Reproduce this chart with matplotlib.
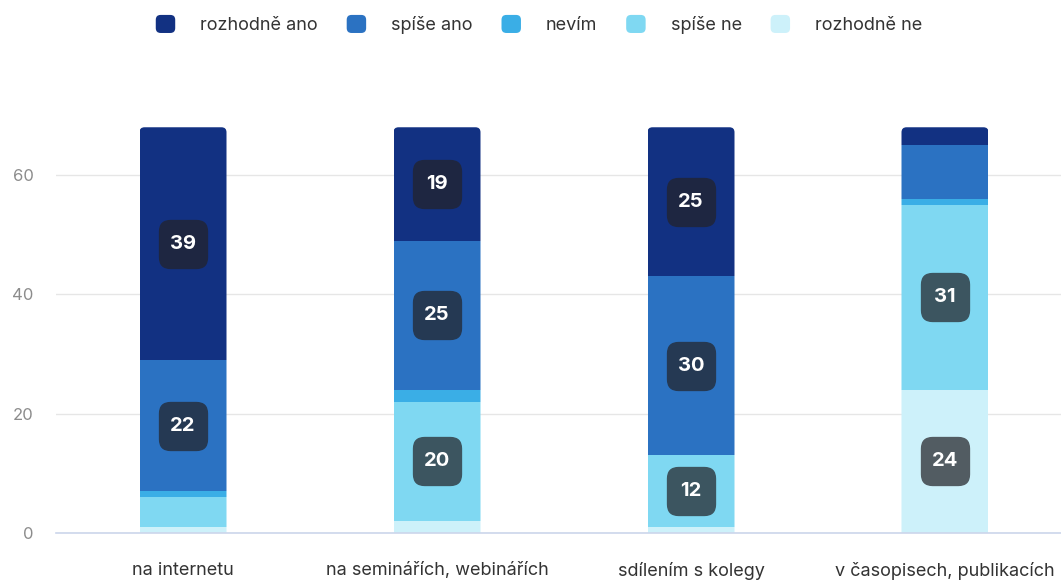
import matplotlib
matplotlib.use("Agg")
import matplotlib.pyplot as plt
from matplotlib.patches import FancyBboxPatch, Patch, BoxStyle
from matplotlib.legend_handler import HandlerPatch
import numpy as np

plt.rcParams['font.family'] = ['Inter', 'DejaVu Sans']

categories = ["na internetu", "na seminářích, webinářích", "sdílením s kolegy", "v časopisech, publikacích"]
series_names = ["rozhodně ano", "spíše ano", "nevím", "spíše ne", "rozhodně ne"]
rozhodne_ano = [39, 19, 25, 3]
spise_ano = [22, 25, 30, 9]
nevim = [1, 2, 0, 1]
spise_ne = [5, 20, 12, 31]
rozhodne_ne = [1, 2, 1, 24]
colors = ["#123182", "#2b72c2", "#3aaee6", "#7fd8f2", "#cdf1fa"]
label_threshold = 10

values = [rozhodne_ano, spise_ano, nevim, spise_ne, rozhodne_ne]

W, H = 1061, 580
fig = plt.figure(figsize=(W / 100, H / 100), dpi=100)
ax_left, ax_bottom_px, ax_top_px = 56, 533, 533 - 70 * (358 / 60)
ax = fig.add_axes([ax_left / W, (H - ax_bottom_px) / H, 1 - ax_left / W, (ax_bottom_px - ax_top_px) / H])

ymax = 70
ax.set_ylim(0, ymax)
band_px = 254
ax.set_xlim(-0.5, 3.5 - (ax_left + 4 * band_px - W) / band_px)

x = np.arange(len(categories))
width = 87 / band_px

# clip shapes with rounded top corners
px_per_y = (ax_bottom_px - ax_top_px) / ymax
clips = []
for xi in x:
    total = sum(v[xi] for v in values)
    r = 5 / band_px
    p = FancyBboxPatch((xi - width / 2, -3), width, total + 3,
                       boxstyle=f"round,pad=0,rounding_size={r}",
                       mutation_aspect=band_px / px_per_y,
                       transform=ax.transData, facecolor='none', edgecolor='none')
    ax.add_patch(p)
    p.set_visible(False)
    clips.append(p)

# rounded-square marker for data label boxes
box_path = BoxStyle.Round(pad=0, rounding_size=0.24)(-0.5, -0.5, 1.0, 1.0, 1.0)

bottoms = np.zeros(len(categories))
order = list(range(len(series_names)))[::-1]  # stack from rozhodně ne upward
for si in order:
    vals = np.array(values[si], dtype=float)
    bars = ax.bar(x, vals, width, bottom=bottoms, color=colors[si], linewidth=0, zorder=3)
    for bi, b in enumerate(bars):
        b.set_clip_path(clips[bi])
        if vals[bi] >= label_threshold:
            yc = bottoms[bi] + vals[bi] / 2
            ax.plot([x[bi]], [yc], marker=box_path, markersize=35.5, color="#232328",
                    alpha=0.72, markeredgewidth=0, linestyle='none', zorder=4)
            ax.text(x[bi], yc, f"{int(vals[bi])}",
                    ha='center', va='center', color='white', fontsize=14.5, fontweight='bold',
                    zorder=5)
    bottoms += vals

ax.set_yticks([0, 20, 40, 60])
ax.yaxis.grid(True, color="#e6e6e6", linewidth=1, zorder=0)
ax.set_axisbelow(True)
for s in ["top", "right", "left"]:
    ax.spines[s].set_visible(False)
ax.spines["bottom"].set_color("#ccd6eb")
ax.spines["bottom"].set_linewidth(1.2)
ax.spines["bottom"].set_zorder(4)
ax.tick_params(axis='y', length=0, pad=16, labelcolor="#8c8c8c", labelsize=12)
ax.tick_params(axis='x', length=0, pad=21, labelcolor="#333333", labelsize=13)
ax.set_xticks(x)
ax.set_xticklabels(categories)


class RoundHandler(HandlerPatch):
    def create_artists(self, legend, orig_handle, xdescent, ydescent, width, height, fontsize, trans):
        w, h = 14.0, 13.0
        cx = -xdescent + width / 2
        cy = -ydescent + height / 2
        p = FancyBboxPatch((cx - w / 2, cy - h / 2), w, h,
                           boxstyle="round,pad=0,rounding_size=3.5",
                           facecolor=orig_handle.get_facecolor(), edgecolor='none', transform=trans)
        return [p]


handles = [Patch(facecolor=c) for c in colors]
fig.legend(handles, series_names, loc='center', bbox_to_anchor=(539 / W, 1 - 25 / H), ncol=5,
           frameon=False, fontsize=13, handler_map={Patch: RoundHandler()},
           handlelength=1.08, handleheight=1.0, handletextpad=1.38, columnspacing=1.6,
           labelcolor="#333333")

fig.savefig("out.png", dpi=100, facecolor='white')
